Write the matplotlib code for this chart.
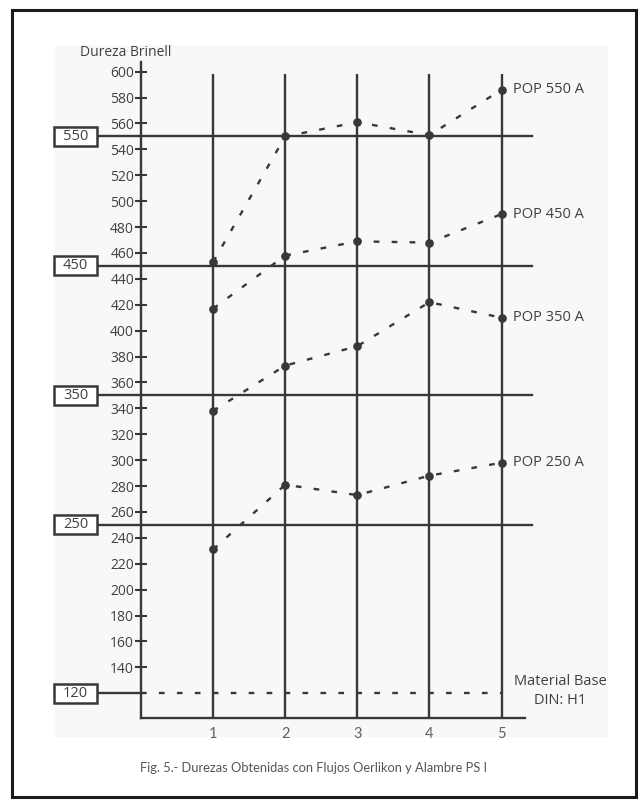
import matplotlib
matplotlib.use("Agg")
import matplotlib.pyplot as plt
from matplotlib.patches import Rectangle

# ---- data ----
positions = [1, 2, 3, 4, 5]
series_names = ["POP 550 A", "POP 450 A", "POP 350 A", "POP 250 A"]
pop550 = [453, 550, 561, 551, 586]
pop450 = [417, 458, 469, 468, 490]
pop350 = [338, 373, 388, 422, 410]
pop250 = [231, 281, 273, 288, 298]
ref_levels = [550, 450, 350, 250]
base_level = 120
y_ticks = list(range(140, 601, 20))
x_labels = ["1", "2", "3", "4", "5"]
y_title = "Dureza Brinell"
base_label = "Material Base\nDIN: H1"
caption = "Fig. 5.- Durezas Obtenidas con Flujos Oerlikon y Alambre PS I"

# ---- layout (pixels) ----
W, H = 639, 800
DPI = 100
px_x0 = 141.0       # x = 0
px_per_x = 72.1
px_y140 = 667.3
px_per_y = 1.2948
ax_left_px, ax_right_px = 141.0, 525.0
ax_top_px, ax_bot_px = 62.0, 717.7

def y_of_px(p):
    return 140 + (px_y140 - p) / px_per_y

def x_of_px(p):
    return (p - px_x0) / px_per_x

ink = "#383838"
txt = "#404040"
dash = (0, (2.4, 5.2))

fig = plt.figure(figsize=(W / DPI, H / DPI), dpi=DPI)
fig.patch.set_facecolor("white")

# outer frame and faint inner panel
fig.patches.append(Rectangle((12 / W, 1 - 797 / H), (636 - 12) / W, (797 - 10) / H,
                             transform=fig.transFigure, fill=False,
                             edgecolor="#1a1a1a", linewidth=2.2, zorder=-5))
fig.patches.append(Rectangle((55 / W, 1 - 737 / H), (608 - 55) / W, (737 - 45) / H,
                             transform=fig.transFigure, facecolor="#f8f8f8",
                             edgecolor="none", zorder=-10))

ax = fig.add_axes([ax_left_px / W, 1 - ax_bot_px / H,
                   (ax_right_px - ax_left_px) / W, (ax_bot_px - ax_top_px) / H])
ax.set_zorder(2)
ax.set_facecolor("none")
ax.set_xlim(x_of_px(ax_left_px), x_of_px(ax_right_px))
ax.set_ylim(y_of_px(ax_bot_px), y_of_px(ax_top_px))

for s in ["top", "right"]:
    ax.spines[s].set_visible(False)
for s in ["left", "bottom"]:
    ax.spines[s].set_color(ink)
    ax.spines[s].set_linewidth(1.7)

font = "Open Sans"
ax.set_yticks(y_ticks)
ax.set_yticklabels([str(v) for v in y_ticks], fontfamily=font, fontsize=10, color=txt)
ax.tick_params(axis="y", direction="inout", length=8, width=1.5, color=ink, pad=1)
ax.set_xticks(positions)
ax.set_xticklabels(x_labels, fontfamily="Lato", fontsize=10.5, color="#606060")
ax.tick_params(axis="x", length=0, pad=7)

ymin = ax.get_ylim()[0]
top_v = y_of_px(74)
ax.vlines(positions, ymin, top_v, color=ink, linewidth=1.7, zorder=2)

x_line_left = x_of_px(97)
x_line_right = x_of_px(531.7)
for lv in ref_levels:
    ax.plot([x_line_left, x_line_right], [lv, lv], color=ink, linewidth=1.7,
            clip_on=False, zorder=2)

# base level line
ax.plot([x_line_left, 0], [base_level, base_level], color=ink, linewidth=1.7,
        clip_on=False, zorder=2)
ax.plot([0, positions[-1]], [base_level, base_level], color=ink, linewidth=1.7,
        linestyle=dash, zorder=2)

# boxes with level labels
bw = 43 / px_per_x
bh = 19 / px_per_y
bx = x_of_px(54)
for lv in ref_levels + [base_level]:
    ax.add_patch(Rectangle((bx, lv - bh / 2), bw, bh, fill=True, facecolor="white",
                           edgecolor=ink, linewidth=1.8, clip_on=False, zorder=3))
    ax.text(bx + bw / 2, lv, str(lv), ha="center", va="center", fontfamily=font,
            fontsize=10.5, color=txt, zorder=4, clip_on=False)

# series
all_series = [pop550, pop450, pop350, pop250]
for name, vals in zip(series_names, all_series):
    ax.plot(positions, vals, color=ink, linewidth=1.7, linestyle=dash,
            marker="o", markersize=5.2, markerfacecolor=ink, markeredgecolor=ink,
            clip_on=False, zorder=5)
    ax.text(x_of_px(512.7), vals[-1], name, ha="left", va="center", fontfamily=font,
            fontsize=10.5, color=txt, clip_on=False)

# base label
ax.text(x_of_px(560), y_of_px(691), base_label, ha="center", va="center",
        fontfamily=font, fontsize=10.5, color=txt, linespacing=1.3, clip_on=False)

# y title
fig.text(80 / W, 1 - 52 / H, y_title, ha="left", va="center", fontfamily=font,
         fontsize=10, color=txt)

# caption
fig.text(314 / W, 1 - 768 / H, caption, ha="center", va="center", fontfamily="Lato",
         fontsize=9.3, color="#555555")

fig.savefig("out.png", dpi=DPI)
